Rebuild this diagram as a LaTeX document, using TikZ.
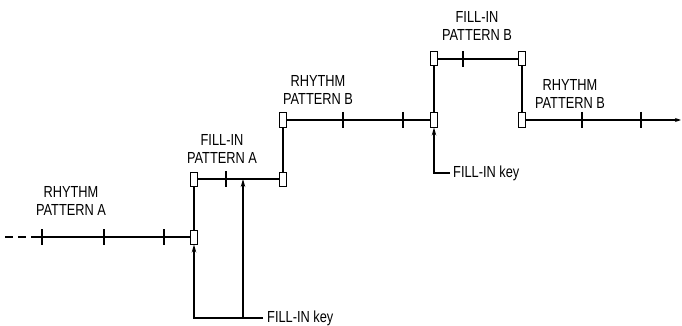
\documentclass[tikz,border=0pt]{standalone}
\usepackage{fontspec}
\setmainfont{Liberation Sans}[FakeStretch=0.8]
\usetikzlibrary{arrows.meta, positioning}

\begin{document}
\begin{tikzpicture}[x=1pt, y=-1pt,
      mark box/.style={draw, rectangle, fill=white, line width=1pt,
                  minimum width=7pt, minimum height=14pt, inner sep=0pt},
      lbl/.style={align=center, inner sep=0pt, font=\fontsize{16}{17.5}\selectfont},
      track/.style={line width=1.3pt},
      tick/.style={line width=1.1pt},
      karr/.style={-{Stealth[length=8pt, width=4.5pt]}, line width=1.1pt}
    ]
    \useasboundingbox (0,0) rectangle (682,326);

    % switch points
    \node[mark box] (a1) at (194,237) {};
    \node[mark box] (a2) at (194,179) {};
    \node[mark box] (a3) at (283,179) {};
    \node[mark box] (b1) at (283,120) {};
    \node[mark box] (b2) at (434,120) {};
    \node[mark box] (c1) at (434,59)  {};
    \node[mark box] (c2) at (522,59)  {};
    \node[mark box] (d1) at (522,120) {};

    \coordinate (start) at (5,237);
    \coordinate (solid) at (32,237);
    \coordinate (stop)  at (681,120);
    \coordinate (fa)    at (243,179);

    % pattern lines
    \draw[track, dashed, dash pattern=on 8pt off 5pt] (start) -- (solid);
    \draw[track] (solid) -- (a1);
    \draw[track, line width=1.7pt] (a1) -- (a2);
    \draw[track] (a2) -- (a3);
    \draw[track] (a3) -- (b1);
    \draw[track] (b1) -- (b2);
    \draw[track] (b2) -- (c1);
    \draw[track] (c1) -- (c2);
    \draw[track] (c2) -- (d1);
    \draw[track, -{Stealth[length=6pt, width=4pt]}] (d1) -- (stop);

    % beats
    \foreach \x in {42,104,164} \draw[tick] (\x,229) -- (\x,245);
    \foreach \x in {226}        \draw[tick] (\x,171) -- (\x,187);
    \foreach \x in {343,403}    \draw[tick] (\x,112) -- (\x,128);
    \foreach \x in {463}        \draw[tick] (\x,51)  -- (\x,67);
    \foreach \x in {582,641}    \draw[tick] (\x,112) -- (\x,128);

    % labels
    \node[lbl] (ra)  at (71,201)  {RHYTHM\\PATTERN A};
    \node[lbl] (fpa) at (222,149) {FILL-IN\\PATTERN A};
    \node[lbl] (rb)  at (318,90)  {RHYTHM\\PATTERN B};
    \node[lbl] (fpb) at (477,26)  {FILL-IN\\PATTERN B};
    \node[lbl] (rb2) at (570,94)  {RHYTHM\\PATTERN B};

    % fill-in keys
    \node[lbl, anchor=west] (keya) at (267,318) {FILL-IN key};
    \node[lbl, anchor=west] (keyb) at (453,173) {FILL-IN key};
    \coordinate (ka) at (263,318);
    \coordinate (kb) at (243,318);
    \coordinate (kc) at (450,173);

    \draw[karr] (ka) -| (a1.south);
    \draw[karr] (kb) -- (fa);
    \draw[karr] (kc) -| (b2.south);
  \end{tikzpicture}
\end{document}
